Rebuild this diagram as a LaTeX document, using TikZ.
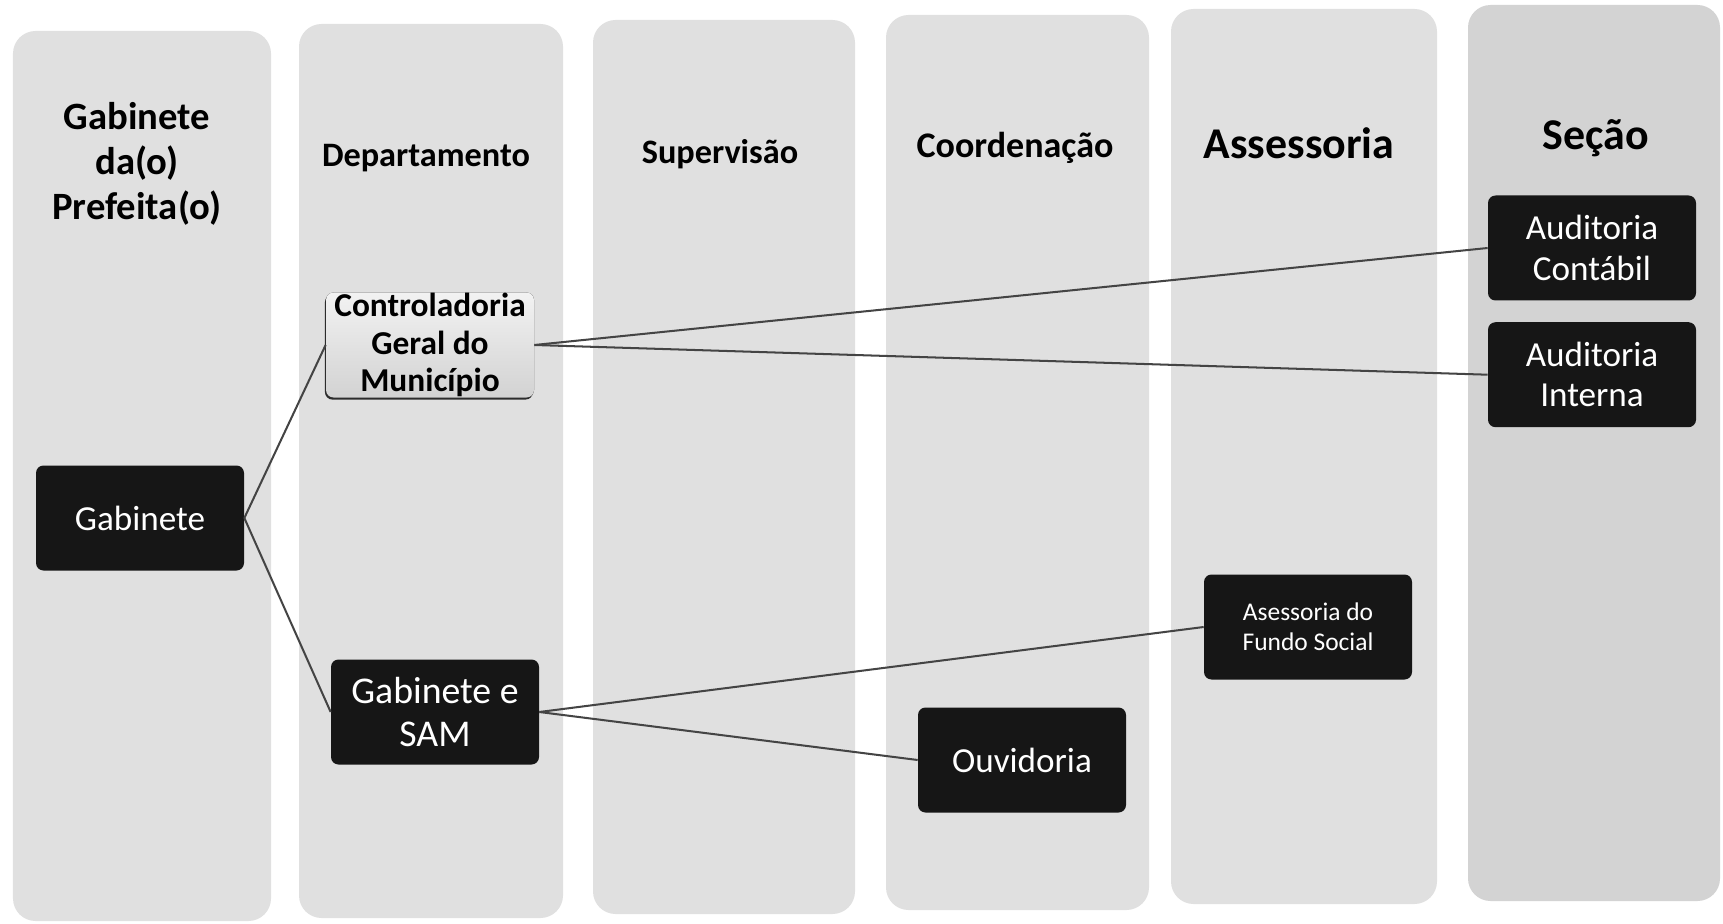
\documentclass[tikz,border=0pt]{standalone}
\usepackage{fontspec}
\setmainfont{Carlito}
\usepackage{tikz}
\usetikzlibrary{positioning}
\usetikzlibrary{shadows}

\definecolor{lanegray}{RGB}{224,224,224}
\definecolor{lastlane}{RGB}{211,211,211}
\definecolor{boxblack}{RGB}{22,22,22}
\definecolor{linkgray}{RGB}{68,68,68}

\begin{document}
\begin{tikzpicture}[lane/.style={rectangle,rounded corners=0.45cm,fill=lanegray,inner sep=0pt},
    head/.style={align=center,font=\bfseries\fontsize{19.5}{23}\selectfont},
    unit/.style={rectangle,rounded corners=0.15cm,fill=boxblack,text=white,align=center,minimum width=4.16cm,minimum height=2.1cm,inner sep=0pt,font=\fontsize{20}{23}\selectfont},
    link/.style={draw=linkgray,line width=1.15pt}]

		\useasboundingbox (0,0) rectangle (34.46,18.46);

		\node[lane][minimum width=5.16cm, minimum height=17.80cm](l1) at (2.84,8.94){};
		\node[lane][minimum width=5.28cm, minimum height=17.88cm](l2) at (8.62,9.04){};
		\node[lane][minimum width=5.24cm, minimum height=17.88cm](l3) at (14.48,9.12){};
		\node[lane][minimum width=5.26cm, minimum height=17.90cm](l4) at (20.35,9.21){};
		\node[lane][minimum width=5.32cm, minimum height=17.90cm](l5) at (26.08,9.33){};
		\node[lane][minimum width=5.04cm, minimum height=17.92cm, fill=lastlane](l6) at (31.88,9.40){};

		\node[head][font=\bfseries\fontsize{22}{25.5}\selectfont](h1) at (2.74,15.18){Gabinete\\da(o)\\Prefeita(o)};
		\node[head](h2) at (8.52,15.30){Departamento};
		\node[head](h3) at (14.40,15.38){Supervisão};
		\node[head][font=\bfseries\fontsize{20.5}{24}\selectfont](h4) at (20.30,15.50){Coordenação};
		\node[head][font=\bfseries\fontsize{25}{30}\selectfont](h5) at (25.98,15.60){Assessoria};
		\node[head][font=\bfseries\fontsize{25}{30}\selectfont](h6) at (31.92,15.70){Seção};

		\node[unit](1) at (2.80,8.10){Gabinete};
		\node[unit][top color=gray!10, bottom color=gray!35, text=black, font=\bfseries\fontsize{19}{21.5}\selectfont, drop shadow={shadow xshift=-0.6pt, shadow yshift=-1.2pt, opacity=0.8, fill=black}](2) at (8.60,11.56){Controladoria\\Geral do\\Município};
		\node[unit][font=\fontsize{21.5}{24}\selectfont](3) at (8.70,4.22){Gabinete e\\SAM};
		\node[unit](4) at (20.44,3.26){Ouvidoria};
		\node[unit][font=\fontsize{14.5}{17}\selectfont](5) at (26.16,5.92){Asessoria do\\Fundo Social};
		\node[unit](6) at (31.84,13.50){Auditoria\\Contábil};
		\node[unit](7)[below = 0.42cm of 6]{Auditoria\\Interna};

		\path (1.east) edge[link] (2.west);
		\path (1.east) edge[link] (3.west);
		\path (2.east) edge[link] (6.west);
		\path (2.east) edge[link] (7.west);
		\path (3.east) edge[link] (5.west);
		\path (3.east) edge[link] (4.west);

\end{tikzpicture}
\end{document}
